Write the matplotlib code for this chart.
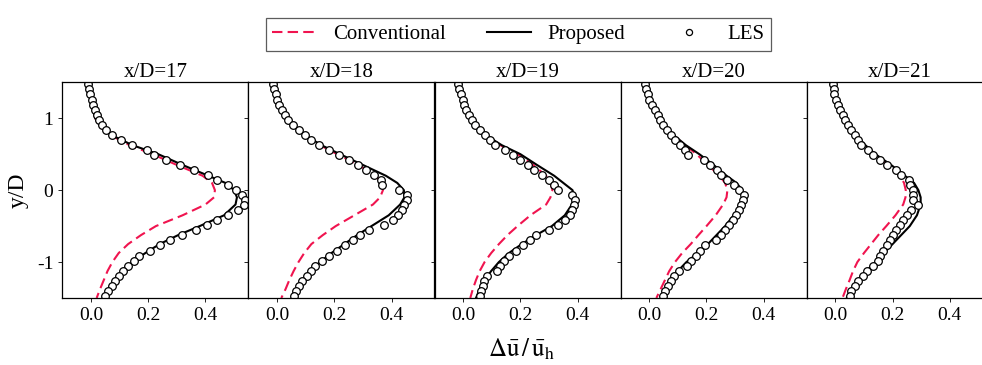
import matplotlib
matplotlib.use("Agg")
import matplotlib.pyplot as plt

plt.rcParams['font.family'] = ['Liberation Serif', 'DejaVu Serif']
plt.rcParams['mathtext.fontset'] = 'stix'
plt.rcParams['axes.unicode_minus'] = False

titles = ["x/D=17", "x/D=18", "x/D=19", "x/D=20", "x/D=21"]

# y/D positions of the model curves
y_model = [1.5, 1.25, 1.0, 0.875, 0.75, 0.625, 0.5, 0.35, 0.2, 0.1, 0.0, -0.1, -0.2, -0.35, -0.5,
           -0.625, -0.75, -0.875, -1.0, -1.125, -1.25, -1.375, -1.5]

proposed_17 = [-0.01, 0.0, 0.015, 0.035, 0.08, 0.145, 0.235, 0.32, 0.41, 0.47, 0.50, 0.51, 0.505, 0.465, 0.38,
               0.305, 0.24, 0.19, 0.145, 0.108, 0.08, 0.062, 0.045]
proposed_18 = [-0.012, 0.0, 0.035, 0.065, 0.105, 0.155, 0.22, 0.30, 0.38, 0.42, 0.443, 0.445, 0.43, 0.39, 0.33,
               0.28, 0.235, 0.19, 0.15, 0.118, 0.09, 0.07, 0.055]
proposed_19 = [-0.02, -0.002, 0.03, 0.055, 0.085, 0.135, 0.20, 0.258, 0.318, 0.35, 0.382, 0.39, 0.38, 0.355, 0.31,
               0.255, 0.205, 0.16, 0.125, 0.098, 0.075, 0.058, 0.045]
proposed_20 = [-0.015, 0.0, 0.036, 0.06, 0.09, 0.128, 0.175, 0.225, 0.27, 0.305, 0.325, 0.33, 0.322, 0.295, 0.265,
               0.235, 0.205, 0.17, 0.13, 0.10, 0.078, 0.06, 0.045]
proposed_21 = [-0.01, 0.004, 0.032, 0.05, 0.075, 0.105, 0.14, 0.195, 0.243, 0.275, 0.29, 0.298, 0.298, 0.285, 0.26,
               0.23, 0.20, 0.17, 0.14, 0.108, 0.078, 0.058, 0.04]

conventional_17 = [-0.01, 0.0, 0.015, 0.033, 0.075, 0.135, 0.215, 0.30, 0.39, 0.423, 0.433, 0.43, 0.40, 0.32, 0.227,
                   0.175, 0.13, 0.097, 0.075, 0.058, 0.045, 0.032, 0.02]
conventional_18 = [-0.012, 0.0, 0.033, 0.063, 0.10, 0.15, 0.21, 0.285, 0.345, 0.365, 0.37, 0.36, 0.335, 0.27, 0.205,
                   0.16, 0.12, 0.095, 0.075, 0.058, 0.043, 0.03, 0.015]
conventional_19 = [-0.02, -0.003, 0.028, 0.053, 0.082, 0.13, 0.19, 0.245, 0.29, 0.305, 0.312, 0.305, 0.29, 0.235, 0.19,
                   0.155, 0.125, 0.098, 0.075, 0.058, 0.045, 0.034, 0.025]
conventional_20 = [-0.015, 0.0, 0.034, 0.058, 0.088, 0.125, 0.165, 0.205, 0.245, 0.265, 0.273, 0.27, 0.258, 0.232, 0.20,
                   0.172, 0.145, 0.115, 0.09, 0.07, 0.055, 0.04, 0.025]
conventional_21 = [-0.01, 0.003, 0.03, 0.048, 0.072, 0.10, 0.135, 0.185, 0.225, 0.24, 0.246, 0.245, 0.237, 0.21, 0.178,
                   0.15, 0.125, 0.10, 0.077, 0.062, 0.05, 0.037, 0.025]

# LES sampling positions
y_les = [1.47, 1.40, 1.33, 1.26, 1.19, 1.12, 1.05, 0.98, 0.91, 0.84, 0.77, 0.70, 0.63, 0.56, 0.49,
         0.42, 0.35, 0.28, 0.21, 0.14, 0.07, 0.00, -0.07, -0.14, -0.21, -0.28, -0.35, -0.42, -0.49,
         -0.56, -0.63, -0.70, -0.77, -0.84, -0.91, -0.98, -1.05, -1.12, -1.19, -1.26, -1.33, -1.40, -1.47]

les_17 = [-0.010, -0.006, -0.002, 0.003, 0.008, 0.014, 0.020, 0.028, 0.038, 0.052, 0.072, 0.106, 0.144, 0.195, 0.222,
          0.262, 0.310, 0.360, 0.410, 0.441, 0.480, 0.505, 0.528, 0.539, 0.535, 0.515, 0.480, 0.440, 0.406,
          0.368, 0.318, 0.275, 0.242, 0.208, 0.168, 0.150, 0.128, 0.112, 0.097, 0.085, 0.074, 0.060, 0.050]
les_18 = [-0.013, -0.010, -0.005, 0.000, 0.008, 0.016, 0.027, 0.040, 0.056, 0.075, 0.098, 0.120, 0.145, 0.183, 0.218,
          0.253, 0.283, 0.310, 0.337, 0.362, 0.368, 0.425, 0.455, 0.455, 0.444, 0.435, 0.423, 0.405, 0.375,
          0.320, 0.290, 0.265, 0.237, 0.208, 0.181, 0.157, 0.134, 0.120, 0.104, 0.087, 0.077, 0.067, 0.058]
les_19 = [-0.017, -0.013, -0.008, -0.002, 0.004, 0.010, 0.020, 0.031, 0.043, 0.058, 0.075, 0.093, 0.110, 0.145, 0.175,
          0.200, 0.225, 0.248, 0.277, 0.300, 0.316, 0.330, 0.380, 0.390, 0.387, 0.380, 0.374, 0.356, 0.330,
          0.300, 0.255, 0.232, 0.210, 0.184, 0.160, 0.142, 0.130, 0.118, 0.085, 0.074, 0.068, 0.063, 0.058]
les_20 = [-0.015, -0.011, -0.006, 0.000, 0.009, 0.020, 0.030, 0.039, 0.049, 0.062, 0.076, 0.089, 0.106, 0.124, 0.135,
          0.190, 0.212, 0.235, 0.250, 0.273, 0.295, 0.315, 0.330, 0.327, 0.321, 0.313, 0.303, 0.292, 0.280,
          0.266, 0.252, 0.232, 0.195, 0.178, 0.162, 0.146, 0.132, 0.105, 0.088, 0.076, 0.067, 0.056, 0.048]
les_21 = [-0.009, -0.006, -0.003, 0.001, 0.008, 0.017, 0.027, 0.034, 0.044, 0.055, 0.070, 0.078, 0.090, 0.115, 0.133,
          0.155, 0.180, 0.212, 0.228, 0.257, 0.262, 0.272, 0.270, 0.272, 0.288, 0.265, 0.250, 0.238, 0.225,
          0.212, 0.200, 0.192, 0.182, 0.165, 0.157, 0.150, 0.132, 0.110, 0.095, 0.080, 0.068, 0.056, 0.050]

proposed = [proposed_17, proposed_18, proposed_19, proposed_20, proposed_21]
conventional = [conventional_17, conventional_18, conventional_19, conventional_20, conventional_21]
les = [les_17, les_18, les_19, les_20, les_21]

fig = plt.figure(figsize=(9.82, 3.65), dpi=100)

axes = []
for i in range(5):
    left = (62.3 + 186.1 * i) / 982
    if i == 0:
        ax = fig.add_axes([left, 0.1836, 186.1 / 982, 0.591])
    else:
        ax = fig.add_axes([left, 0.1836, 186.1 / 982, 0.591], sharey=axes[0])
        plt.setp(ax.get_yticklabels(), visible=False)
    axes.append(ax)

    ax.plot(conventional[i], y_model, '--', color='#f0144f', lw=1.5, dashes=(5, 2.5),
            dash_joinstyle='round', label="Conventional")
    ax.plot(proposed[i], y_model, '-', color='black', lw=1.5, solid_joinstyle='round', label="Proposed")
    ax.plot(les[i], y_les, 'o', mfc='white', mec='black', mew=0.9, ms=5.5, label="LES")

    ax.set_xlim(-0.1, 0.55)
    ax.set_ylim(-1.5, 1.5)
    ax.set_xticks([0.0, 0.2, 0.4])
    ax.set_xticklabels(["0.0", "0.2", "0.4"])
    ax.set_title(titles[i], fontsize=15, pad=3)
    ax.tick_params(labelsize=14, length=3, width=0.6)
    for s in ax.spines.values():
        s.set_linewidth(0.9)

axes[0].set_yticks([-1, 0, 1])
fig.text(18 / 982, 0.479, "y/D", rotation=90, ha='center', va='center', fontsize=17)

fig.text(0.531, 0.042, r'$\Delta\mathrm{\bar{u}}\,/\,\mathrm{\bar{u}_h}$', ha='center', va='center', fontsize=18)

handles, labels = axes[0].get_legend_handles_labels()
leg = fig.legend(handles, labels, loc='upper center', bbox_to_anchor=(0.528, 0.978), ncol=3,
                 fontsize=15, frameon=True, fancybox=False, edgecolor='#333333',
                 handlelength=2.1, handletextpad=0.8, columnspacing=2.0, borderpad=0.3, markerscale=0.8)
leg.get_frame().set_linewidth(0.9)

fig.savefig("out.png", dpi=100)
